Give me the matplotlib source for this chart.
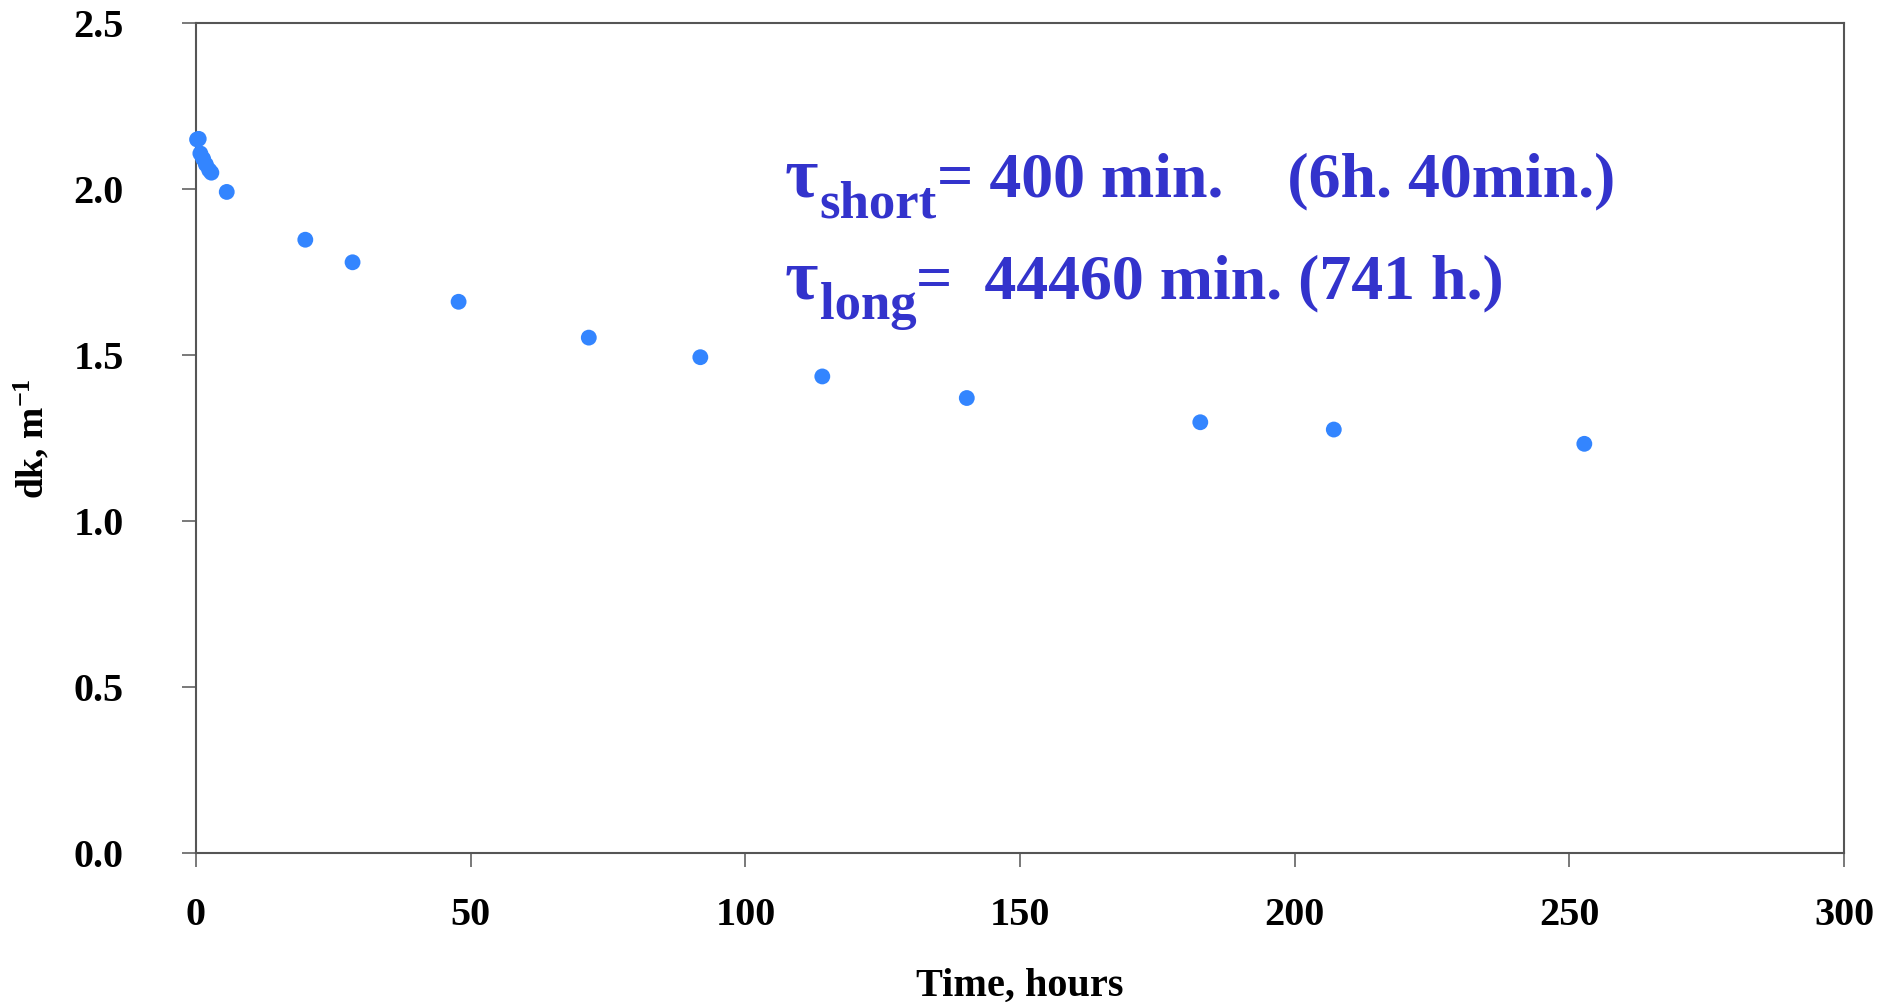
import matplotlib
matplotlib.use('Agg')
import matplotlib.pyplot as plt

# data
time_h = [0.2, 0.5, 0.8, 1.3, 1.8, 2.4, 2.8, 5.6, 19.9, 28.5, 47.8, 71.5, 91.8, 114.0, 140.3, 182.8, 207.1, 252.7]
dk = [2.150, 2.152, 2.108, 2.092, 2.075, 2.058, 2.050, 1.992, 1.848, 1.780, 1.661, 1.553, 1.494, 1.436, 1.371, 1.298, 1.276, 1.233]

x_ticks = [0, 50, 100, 150, 200, 250, 300]
y_ticks = [0.0, 0.5, 1.0, 1.5, 2.0, 2.5]

# annotation lines: (subscript, rest of the line, baseline y)
notes = [
    ('short', '= 400 min.    (6h. 40min.)', 1.978),
    ('long', '=  44460 min. (741 h.)', 1.672),
]
note_x = 107.2

plt.rcParams['font.family'] = ['Liberation Serif', 'DejaVu Serif']
plt.rcParams['font.weight'] = 'bold'
plt.rcParams['mathtext.fontset'] = 'custom'
plt.rcParams['mathtext.rm'] = 'Liberation Serif:bold'
plt.rcParams['mathtext.it'] = 'Liberation Serif:bold'
plt.rcParams['mathtext.bf'] = 'Liberation Serif:bold'

fig = plt.figure(figsize=(18.88, 10.02), dpi=100)
ax = fig.add_axes([0.1038, 0.1487, 0.873, 0.828])

ax.scatter(time_h, dk, s=130, color='#3385FF', edgecolors='none', zorder=3, clip_on=False)

ax.set_xlim(0, 300)
ax.set_ylim(0, 2.5)
ax.set_xticks(x_ticks)
ax.set_xticklabels([str(v) for v in x_ticks])
ax.set_yticks(y_ticks)
ax.set_yticklabels(['%.1f' % v for v in y_ticks])

for sp in ax.spines.values():
    sp.set_color('#555555')
    sp.set_linewidth(1.5)

ax.tick_params(axis='x', direction='out', length=10, width=1.1, color='#555555',
               labelsize=29, pad=22)
ax.tick_params(axis='y', direction='out', length=10, width=1.1, color='#555555',
               labelsize=29, pad=42)

ax.set_xlabel('Time, hours', fontsize=29, fontweight='bold', labelpad=24)
ax.set_ylabel(r'dk, m$^{\mathrm{-1}}$', fontsize=27, fontweight='bold', labelpad=16)

blue = '#3333CC'
for sub, rest, yb in notes:
    t = ax.text(note_x, yb, '\u03c4', fontsize=52, fontweight='bold', color=blue)
    s = ax.annotate(sub, xy=(1, yb), xycoords=(t, 'data'), xytext=(1, -15),
                    textcoords='offset points', fontsize=38, fontweight='bold', color=blue)
    ax.annotate(rest, xy=(1, yb), xycoords=(s, 'data'), xytext=(0, 0),
                textcoords='offset points', fontsize=46, fontweight='bold', color=blue)

plt.savefig('out.png', dpi=100)
